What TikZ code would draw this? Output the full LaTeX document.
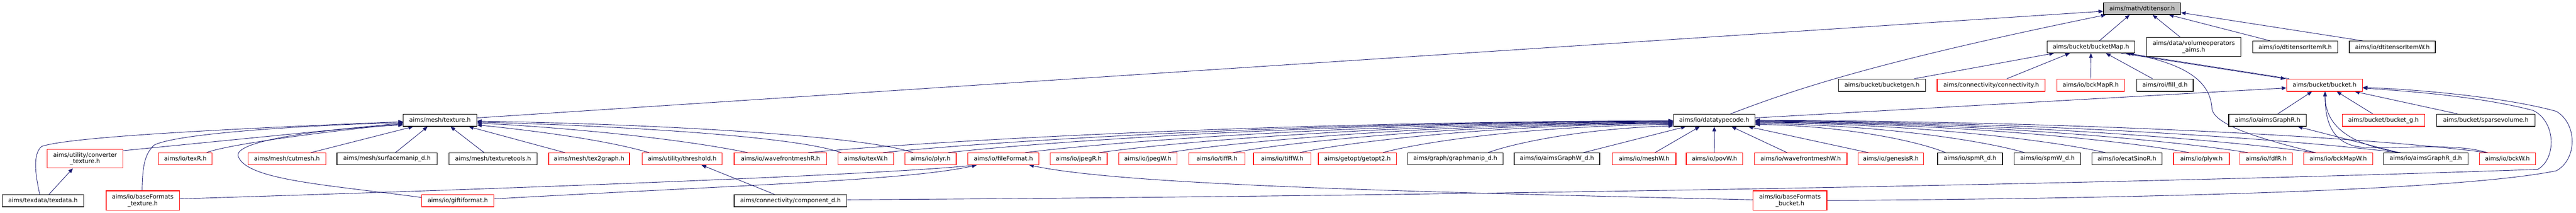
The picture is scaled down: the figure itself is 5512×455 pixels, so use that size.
\documentclass[tikz,border=0pt]{standalone}
\usepackage{fontspec}
\setmainfont{DejaVu Sans}
\usetikzlibrary{arrows.meta,calc}
\definecolor{edgecol}{HTML}{191970}
\definecolor{boxgray}{HTML}{BFBFBF}
\pgfdeclarelayer{bg}
\pgfsetlayers{bg,main}
\newcommand\nodefont{\fontsize{12.7}{14}\selectfont}
\begin{document}
\begin{tikzpicture}[x=1pt,y=-1pt,
  box/.style={draw, line width=1.4pt, fill=white, inner sep=0pt, align=center, font=\nodefont, text=black},
  blkbox/.style={box, draw=black},
  redbox/.style={box, draw=red},
  topbox/.style={box, draw=black, fill=boxgray},
  wh/.style 2 args={minimum width=#1pt, minimum height=#2pt},
  edge/.style={draw=edgecol, line width=1pt, -{Triangle[length=10pt,width=8pt]}}]
\useasboundingbox (0,0) rectangle (5512,455);
% level 0
\node[topbox, wh={165}{25}] (dti) at (4583.5,18.5) {aims/math/dtitensor.h};
% level 1
\node[blkbox, wh={188}{25}] (bmap) at (4474,100.5) {aims/bucket/bucketMap.h};
\node[blkbox, wh={202}{41}] (volop) at (4694,100.5) {aims/data/volumeoperators\\\_aims.h};
\node[blkbox, wh={182}{25}] (dtiR) at (4911,100.5) {aims/io/dtitensorItemR.h};
\node[blkbox, wh={184}{25}] (dtiW) at (5119,100.5) {aims/io/dtitensorItemW.h};
% level 2
\node[blkbox, wh={186}{26}] (bgen) at (4027,182) {aims/bucket/bucketgen.h};
\node[redbox, wh={231}{26}] (conn) at (4260.5,182) {aims/connectivity/connectivity.h};
\node[redbox, wh={145}{26}] (bmapR) at (4473.5,182) {aims/io/bckMapR.h};
\node[blkbox, wh={121}{26}] (fill) at (4632.5,182) {aims/roi/fill\_d.h};
\node[redbox, wh={162}{26}] (bucket) at (4974,182) {aims/bucket/bucket.h};
% level 3
\node[blkbox, wh={157}{26}] (texture) at (941.5,257) {aims/mesh/texture.h};
\node[blkbox, wh={174}{26}] (dtc) at (3668,257) {aims/io/datatypecode.h};
\node[blkbox, wh={166}{26}] (agR) at (4852,257) {aims/io/aimsGraphR.h};
\node[redbox, wh={176}{26}] (bg) at (5100,257) {aims/bucket/bucket\_g.h};
\node[blkbox, wh={210}{26}] (sparse) at (5319,257) {aims/bucket/sparsevolume.h};
% level 4
\node[redbox, wh={162}{40}] (conv) at (182,339) {aims/utility/converter\\\_texture.h};
\node[redbox, wh={115}{25}] (texR) at (396.5,339.5) {aims/io/texR.h};
\node[redbox, wh={166}{25}] (cutmesh) at (614,339.5) {aims/mesh/cutmesh.h};
\node[blkbox, wh={214}{25}] (surf) at (828,339.5) {aims/mesh/surfacemanip\_d.h};
\node[blkbox, wh={188}{25}] (textools) at (1055,339.5) {aims/mesh/texturetools.h};
\node[redbox, wh={173}{25}] (tex2graph) at (1260.5,339.5) {aims/mesh/tex2graph.h};
\node[redbox, wh={171}{25}] (thresh) at (1459.5,339.5) {aims/utility/threshold.h};
\node[redbox, wh={198}{25}] (wfR) at (1670,339.5) {aims/io/wavefrontmeshR.h};
\node[redbox, wh={119}{25}] (texW) at (1852.5,339.5) {aims/io/texW.h};
\node[redbox, wh={110}{25}] (plyr) at (1991,339.5) {aims/io/plyr.h};
\node[redbox, wh={152}{25}] (ff) at (2147,339.5) {aims/io/fileFormat.h};
\node[redbox, wh={122}{25}] (jpegR) at (2308,339.5) {aims/io/jpegR.h};
\node[redbox, wh={124}{25}] (jpegW) at (2456,339.5) {aims/io/jpegW.h};
\node[redbox, wh={120}{25}] (tiffR) at (2604,339.5) {aims/io/tiffR.h};
\node[redbox, wh={123}{25}] (tiffW) at (2743.5,339.5) {aims/io/tiffW.h};
\node[redbox, wh={167}{25}] (getopt) at (2904.5,339.5) {aims/getopt/getopt2.h};
\node[blkbox, wh={204}{25}] (gmanip) at (3114,339.5) {aims/graph/graphmanip\_d.h};
\node[blkbox, wh={183}{25}] (agW) at (3331.5,339.5) {aims/io/aimsGraphW\_d.h};
\node[redbox, wh={136}{25}] (meshW) at (3518,339.5) {aims/io/meshW.h};
\node[redbox, wh={121}{25}] (povW) at (3668.5,339.5) {aims/io/povW.h};
\node[redbox, wh={198}{25}] (wfW) at (3853,339.5) {aims/io/wavefrontmeshW.h};
\node[redbox, wh={140}{25}] (genR) at (4046,339.5) {aims/io/genesisR.h};
\node[blkbox, wh={139}{25}] (spmR) at (4215.5,339.5) {aims/io/spmR\_d.h};
\node[blkbox, wh={142}{25}] (spmW) at (4381,339.5) {aims/io/spmW\_d.h};
\node[blkbox, wh={150}{25}] (ecat) at (4551,339.5) {aims/io/ecatSinoR.h};
\node[redbox, wh={119}{25}] (plyw) at (4710.5,339.5) {aims/io/plyw.h};
\node[redbox, wh={112}{25}] (fdfR) at (4849,339.5) {aims/io/fdfR.h};
\node[redbox, wh={148}{25}] (bmapW) at (5003,339.5) {aims/io/bckMapW.h};
\node[blkbox, wh={181}{25}] (agRd) at (5190.5,339.5) {aims/io/aimsGraphR\_d.h};
\node[redbox, wh={120}{25}] (bckW) at (5365,339.5) {aims/io/bckW.h};
% level 5
\node[blkbox, wh={174}{26}] (texdata) at (92,429) {aims/texdata/texdata.h};
\node[redbox, wh={157}{41}] (bfTex) at (305.5,428.5) {aims/io/baseFormats\\\_texture.h};
\node[redbox, wh={155}{26}] (gifti) at (979.5,429) {aims/io/giftiformat.h};
\node[blkbox, wh={241}{26}] (comp) at (1691.5,429) {aims/connectivity/component\_d.h};
\node[redbox, wh={158}{41}] (bfBucket) at (3830,428.5) {aims/io/baseFormats\\\_bucket.h};

\begin{pgfonlayer}{bg}
\path[fill=white] (0,0) rectangle (5512,455);
% into dtitensor.h
\draw[edge] ([xshift=18pt]bmap.north) -- ([xshift=-26.5pt]dti.south);
\draw[edge] ([xshift=-29pt]volop.north) -- ([xshift=22.5pt]dti.south);
\draw[edge] ([xshift=-53pt]dtiR.north) -- ([xshift=57.5pt]dti.south);
\draw[edge] ([xshift=-63pt]dtiW.north) -- ([yshift=-8.5pt]dti.east);
\draw[edge] ([yshift=5pt]texture.east) -- ([yshift=-5.5pt]dti.west);
\draw[edge] ([xshift=35pt]dtc.north) .. controls (3830,195) and (4000,135) .. ([xshift=-77.5pt]dti.south);
% into bucketMap.h
\draw[edge] ([xshift=69pt]bgen.north) -- ([xshift=-79pt]bmap.south);
\draw[edge] ([xshift=33.5pt]conn.north) -- ([xshift=-45pt]bmap.south);
\draw[edge] (bmapR.north) -- (bmap.south);
\draw[edge] ([xshift=-26.5pt]fill.north) -- ([xshift=32pt]bmap.south);
\draw[edge] ([xshift=-30pt]bmap.south east) -- ([xshift=-2pt]bucket.north west);
\draw[edge] ([xshift=6pt]bucket.north west) -- ([xshift=-20pt]bmap.south east);
\draw[edge] ([xshift=-48pt]bmapW.north) .. controls (4850,300) and (4740,270) .. (4733,233) .. controls (4730,165) and (4660,135) .. ([xshift=-13pt]bmap.south east);
% into bucket.h
\draw[edge] ([yshift=5pt]dtc.east) -- ([yshift=-6pt]bucket.west);
\draw[edge] ([xshift=22pt]agR.north) -- ([xshift=-27pt]bucket.south);
\draw[edge] ([xshift=-23pt]bg.north) -- ([xshift=26pt]bucket.south);
\draw[edge] ([xshift=-61pt]sparse.north) -- ([xshift=-17pt]bucket.south east);
\draw[edge] ([xshift=-53.5pt]agRd.north) .. controls (5030,310) and (4975,270) .. ([xshift=1pt]bucket.south);
\draw[edge] ([xshift=-42pt]bckW.north) .. controls (5250,305) and (5150,318) .. (5060,315) .. controls (4990,312) and (4975,260) .. ([xshift=1pt]bucket.south);
\draw[edge] ([yshift=2pt]comp.east) .. controls (3000,420) and (4500,395) .. (5430,362) .. controls (5470,340) and (5470,260) .. (5420,236) .. controls (5300,205) and (5150,195) .. ([yshift=-6pt]bucket.east);
\draw[edge] (bfBucket.east) .. controls (4500,425) and (5250,410) .. (5470,365) .. controls (5515,340) and (5515,265) .. (5470,238) .. controls (5350,205) and (5150,190) .. ([yshift=-5pt]bucket.east);
% misc
\draw[edge] ([xshift=13pt]texdata.north) -- ([xshift=-26pt]conv.south);
\draw[edge] ([xshift=-34.5pt]comp.north) -- ([xshift=41.5pt]thresh.south);
\draw[edge] ([yshift=3.5pt]bfTex.east) .. controls (1200,400) and (1900,372) .. ([xshift=-57pt]ff.south);
\draw[edge] ([yshift=4pt]gifti.east) .. controls (1600,395) and (1950,385) .. ([xshift=-57pt]ff.south);
\draw[edge] ([yshift=1.5pt]bfBucket.west) .. controls (3000,410) and (2400,395) .. ([xshift=55pt]ff.south);
\draw[edge] ([xshift=-57.5pt]agRd.north) -- ([xshift=-19pt]agR.south east);
% into texture.h
\draw[edge] ([xshift=-7pt]texdata.north) .. controls (75,370) and (70,330) .. (89,313) .. controls (150,292) and (500,275) .. ([yshift=-3pt]texture.west);
\draw[edge] ([xshift=-1.5pt]bfTex.north) .. controls (305,360) and (308,330) .. (330,310) .. controls (380,285) and (650,268) .. ([yshift=-5pt]texture.west);
\draw[edge] ([yshift=17pt]conv.east) -- ([yshift=-6pt]texture.west);
\draw[edge] ([xshift=45.5pt]texR.north) .. controls (480,310) and (700,280) .. ([yshift=-8pt]texture.west);
\draw[edge] ([yshift=7pt]gifti.west) .. controls (700,395) and (530,385) .. (510,335) .. controls (495,300) and (700,275) .. ([yshift=-10pt]texture.west);
\draw[edge] ([xshift=51pt]cutmesh.north) -- ([xshift=-57.5pt]texture.south);
\draw[edge] ([xshift=18pt]surf.north) -- ([xshift=-26.5pt]texture.south);
\draw[edge] ([xshift=-19pt]textools.north) -- ([xshift=22.5pt]texture.south);
\draw[edge] ([xshift=-51.5pt]tex2graph.north) -- ([xshift=61.5pt]texture.south);
\draw[edge] ([xshift=-70.5pt]thresh.north) .. controls (1300,300) and (1150,280) .. ([yshift=-10pt]texture.east);
\draw[edge] ([xshift=-70pt]wfR.north) .. controls (1450,295) and (1200,272) .. ([yshift=-6pt]texture.east);
\draw[edge] ([xshift=-52.5pt]texW.north) .. controls (1700,290) and (1300,268) .. ([yshift=-4pt]texture.east);
\draw[edge] ([xshift=-37pt]plyr.north) .. controls (1850,290) and (1400,265) .. ([yshift=-2pt]texture.east);
% into datatypecode.h, from the left
\draw[edge] ([xshift=59pt]wfR.north) .. controls (1951,305) and (2655,261) .. ([yshift=-1pt]dtc.west);
\draw[edge] ([xshift=36.5pt]texW.north) .. controls (2092,305) and (2735,261.5) .. ([yshift=-1.5pt]dtc.west);
\draw[edge] ([xshift=37pt]plyr.north) .. controls (2214,305) and (2804,262) .. ([yshift=-2pt]dtc.west);
\draw[edge] ([xshift=46pt]ff.north) .. controls (2360,305) and (2887,263) .. ([yshift=-3pt]dtc.west);
\draw[edge] ([xshift=44pt]jpegR.north) .. controls (2499,305) and (2966,264) .. ([yshift=-4pt]dtc.west);
\draw[edge] ([xshift=44pt]jpegW.north) .. controls (2630,305) and (3040,265) .. ([yshift=-5pt]dtc.west);
\draw[edge] ([xshift=34pt]tiffR.north) .. controls (2751,305) and (3110,266) .. ([yshift=-6pt]dtc.west);
\draw[edge] ([xshift=37.5pt]tiffW.north) .. controls (2877,305) and (3181,267) .. ([yshift=-7pt]dtc.west);
\draw[edge] ([xshift=54.5pt]getopt.north) .. controls (3034,305) and (3270,269) .. ([yshift=-9pt]dtc.west);
\draw[edge] ([xshift=70pt]gmanip.north) .. controls (3232,308) and (3380,275) .. ([yshift=-12pt]dtc.west);
\draw[edge] ([xshift=56.5pt]agW.north) -- ([xshift=-61pt]dtc.south);
\draw[edge] ([xshift=23pt]meshW.north) -- ([xshift=-31pt]dtc.south);
\draw[edge] (povW.north) -- (dtc.south);
\draw[edge] ([xshift=-29pt]wfW.north) -- ([xshift=37pt]dtc.south);
\draw[edge] ([xshift=-48pt]genR.north) -- ([xshift=-15pt]dtc.south east);
% into datatypecode.h, from the right
\draw[edge] ([xshift=-52.5pt]spmR.north) .. controls (4114,305) and (3959,269) .. ([yshift=-9pt]dtc.east);
\draw[edge] ([xshift=-49pt]spmW.north) .. controls (4263,305) and (4043,267) .. ([yshift=-7pt]dtc.east);
\draw[edge] ([xshift=-46pt]ecat.north) .. controls (4415,305) and (4130,265) .. ([yshift=-5pt]dtc.east);
\draw[edge] ([xshift=-26.5pt]plyw.north) .. controls (4573,305) and (4220,264) .. ([yshift=-4pt]dtc.east);
\draw[edge] ([xshift=-39pt]fdfR.north) .. controls (4683,305) and (4283,263) .. ([yshift=-3pt]dtc.east);
\draw[edge] ([xshift=-50pt]bmapW.north) .. controls (4809,305) and (4354,262) .. ([yshift=-2pt]dtc.east);
\draw[edge] ([xshift=-58.5pt]agRd.north) .. controls (4967,305) and (4444,261) .. ([yshift=-1pt]dtc.east);
\draw[edge] ([xshift=-44pt]bckW.north) .. controls (5133,300) and (4538,260) .. (dtc.east);
\end{pgfonlayer}
\end{tikzpicture}
\end{document}
